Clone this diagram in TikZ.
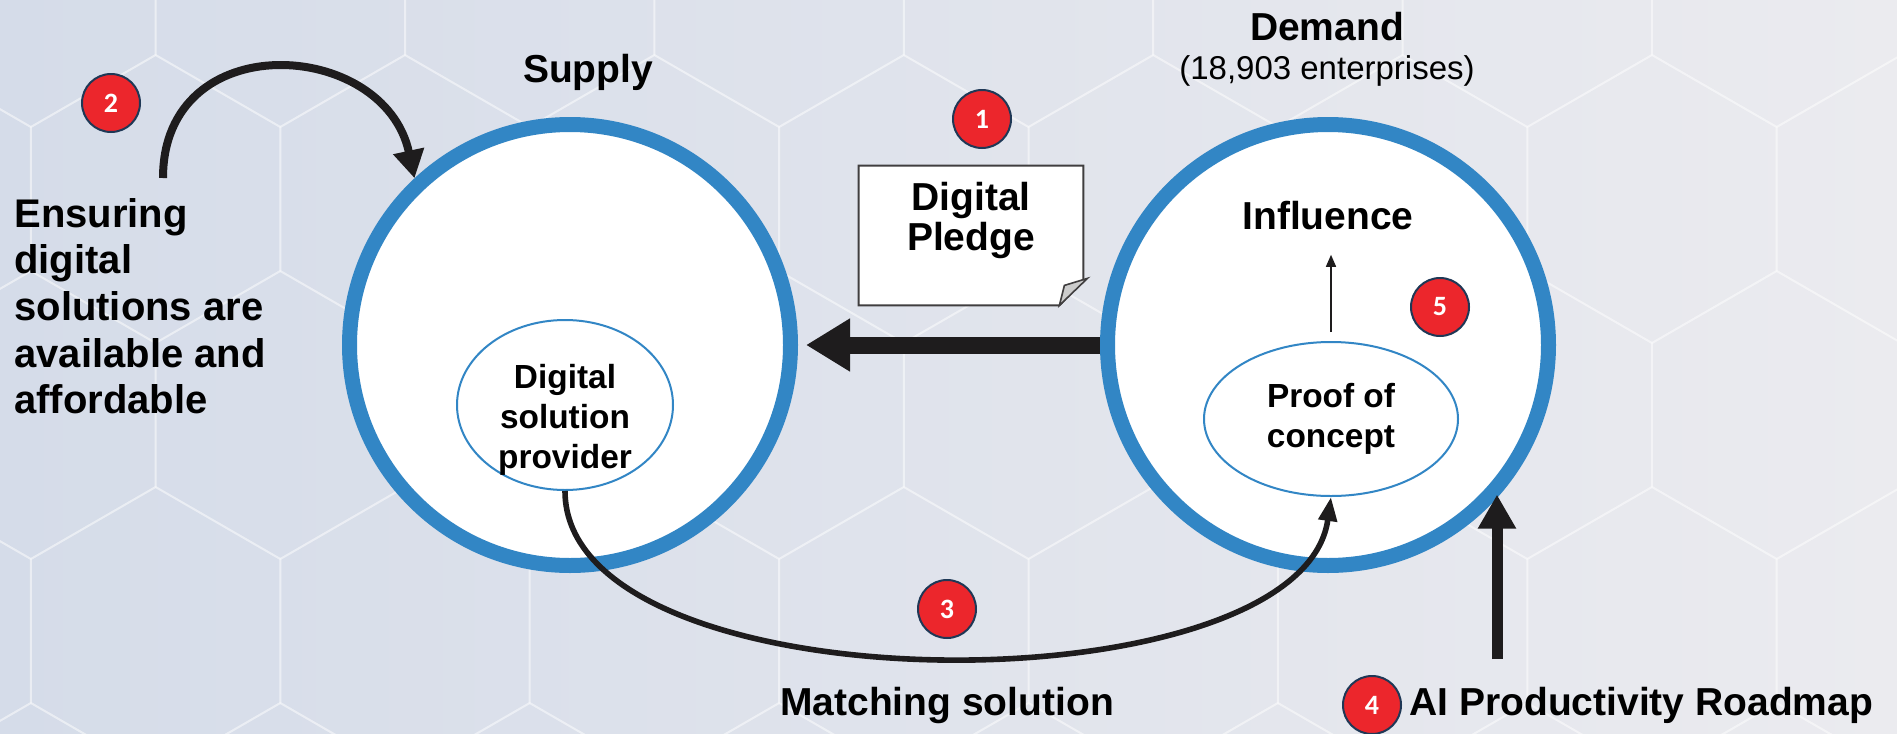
\documentclass[tikz,border=0pt]{standalone}
\usepackage{fontspec}
\setmainfont{Liberation Sans}
\newfontfamily\badgefont{Carlito}
\usetikzlibrary{arrows.meta,shapes.geometric,positioning,calc}
\begin{document}
\begin{tikzpicture}[x=0.5pt, y=-0.5pt,
    ring/.style={circle, draw=ringblue, line width=7.5pt, fill=white, minimum size=220.5pt, inner sep=0pt},
    blob/.style={ellipse, draw=ringblue, line width=1pt, fill=white, inner sep=0pt},
    blobtext/.style={align=center, inner sep=0pt, font=\bfseries\fontsize{16.7}{20}\selectfont},
    badge/.style={circle, draw=badgerim, line width=1pt, fill=badgered, minimum size=29pt, inner sep=0pt, text=white, font=\badgefont\bfseries\fontsize{14}{14}\selectfont},
    big/.style={font=\bfseries\fontsize{19.5}{20}\selectfont, inner sep=0pt},
    hexline/.style={white, opacity=0.3, line width=1pt}]
    \definecolor{ringblue}{RGB}{50,134,197}
    \definecolor{badgered}{RGB}{236,38,44}
    \definecolor{badgerim}{RGB}{31,56,86}
    \definecolor{inkblack}{RGB}{30,28,29}
    \definecolor{bgleft}{RGB}{213,220,233}
    \definecolor{bgright}{RGB}{235,235,239}
    \useasboundingbox (0,0) rectangle (1897,734);
    \shade[left color=bgleft, right color=bgright] (0,0) rectangle (1897,734);
    \foreach \r in {-1,...,3}{
      \foreach \k in {-1,...,8}{
        \pgfmathsetmacro\cx{1652+124.7*mod(\r+2,2)-249.4*\k}
        \pgfmathsetmacro\cy{199+216*\r}
        \draw[hexline] (\cx,\cy-144) -- (\cx+124.7,\cy-72) -- (\cx+124.7,\cy+72) -- (\cx,\cy+144) -- (\cx-124.7,\cy+72) -- (\cx-124.7,\cy-72) -- cycle;
      }
    }
    \node[ring] (supply) at (570,345) {};
    \node[ring] (demand) at (1328,345) {};
    \node[blob, minimum width=108pt, minimum height=85pt] (dsp) at (565,405) {};
    \node[blobtext] (dsptext) at ($(dsp.center)+(0,15)$) {Digital\\solution\\provider};
    \node[blob, minimum width=127pt, minimum height=77pt] (poc) at (1331,419) {};
    \node[blobtext] (poctext) at (poc.center) {Proof of\\concept};
    \node[big, anchor=base] (supplylbl) at (588,82) {Supply};
    \node[big, anchor=base] (demandlbl) at (1327,40) {Demand};
    \node[anchor=base, inner sep=0pt, font=\fontsize{16.5}{18}\selectfont] (firms) at (1327,79) {(18,903 enterprises)};
    \node[big, anchor=base] (influence) at (1328,229) {Influence};
    \node[big, anchor=base] (matching) at (947,715) {Matching solution};
    \node[big, anchor=base west] (roadmap) at (1409,715) {AI Productivity Roadmap};
    \node[anchor=north west, inner sep=0pt, align=left, font=\bfseries\fontsize{20}{23.3}\selectfont] (ensure) at (14,198) {Ensuring\\digital\\solutions are\\available and\\affordable};
    \node[minimum width=112pt, minimum height=69.5pt, inner sep=0pt] (pledge) at (971,235.5) {};
    \draw[line width=1pt, draw=inkblack!85, fill=white] (pledge.north west) -- (pledge.north east) -- ($(pledge.south east)+(0,-26)$) -- ($(pledge.south east)+(-24,0)$) -- (pledge.south west) -- cycle;
    \draw[line width=0.8pt, draw=inkblack!85, fill=gray!40] ($(pledge.south east)+(4,-27)$) -- ($(pledge.south east)+(-24,0)$) -- ($(pledge.south east)+(-19,-20)$) -- cycle;
    \node[big, align=center, below=8pt of pledge.north] (pledgetxt) {Digital\\Pledge};
    \draw[-{Triangle[width=25pt,length=22pt]}, line width=8.5pt, inkblack, shorten >=4pt] (demand.west) -- (supply.east);
    \coordinate (ensurefoot) at (163,178);
    \draw[-{Triangle[width=15pt,length=14pt]}, line width=4pt, inkblack] (ensurefoot) .. controls +(0,-153) and +(-30,-140) .. (supply.133);
    \draw[-{Triangle[width=9pt,length=12pt]}, line width=2.8pt, inkblack] (dsp.south) .. controls +(0,220) and +(-30,215) .. (poc.south);
    \coordinate (roadfoot) at (1497,659);
    \draw[-{Triangle[width=18pt,length=17pt]}, line width=5.5pt, inkblack] (roadfoot) -- (roadfoot |- demand.-41);
    \draw[-{Triangle[width=5pt,length=6pt]}, line width=0.75pt, inkblack, shorten <=4.5pt, shorten >=12.5pt] (poc.north) -- (poc.north |- influence.south);
    \node[badge] (b1) at (982,119) {1};
    \node[badge] (b2) at (111,103) {2};
    \node[badge] (b3) at (947,609) {3};
    \node[badge] (b4) at (1372,705) {4};
    \node[badge] (b5) at (1440,307) {5};
  \end{tikzpicture}
\end{document}
